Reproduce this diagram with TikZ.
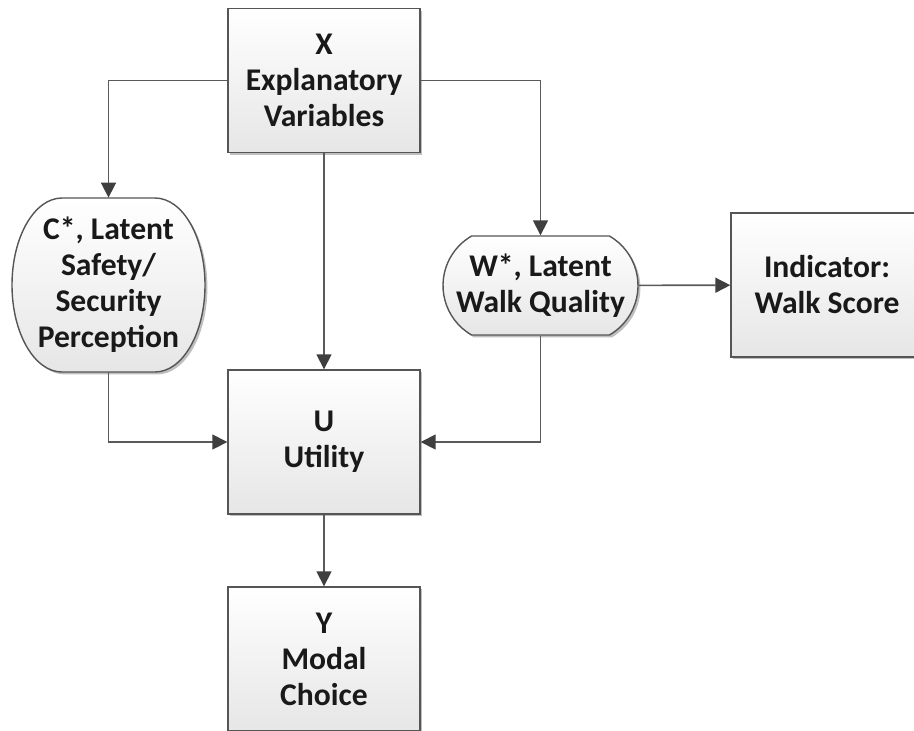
\documentclass[tikz,border=0pt]{standalone}
\usepackage{fontspec}
\setmainfont{Carlito}
\usetikzlibrary{
  arrows.meta,
  shapes.misc,
  shadows
}
\definecolor{mcLine}{HTML}{5A5A5A}
\definecolor{mcTip}{HTML}{3F3F3F}
\definecolor{mcEdge}{HTML}{555555}
\definecolor{mcFill}{HTML}{E6E6E6}
\tikzset{
  mshade/.style={
    draw=mcEdge, line width=0.7pt, top color=white, bottom color=mcFill,
    drop shadow={shadow xshift=1.2pt, shadow yshift=-1.2pt, opacity=0.25, fill=black}
  },
  mtext/.style={align=center, font=\fontsize{15.8}{18}\selectfont\bfseries, text=black!90, inner sep=2pt},
  mnode/.style={mshade, mtext},
  mbox/.style={mnode, rectangle, minimum width=96pt, minimum height=72pt},
  latent/.style={mnode, rounded rectangle, inner xsep=0pt, inner ysep=1pt},
  flow/.style={-{Triangle[length=7.5pt, width=7.5pt, color=mcTip]}, line width=0.8pt, mcLine}
}

\begin{document}
\begin{tikzpicture}[x=0.5pt, y=-0.5pt]
  \useasboundingbox (0,0) rectangle (914,730);
  \node[mbox] (expl) at (324,80.5) {X\\Explanatory\\Variables};
  % latent safety outline, elliptic sides
  \path[mshade] (62,198) -- (155,198) arc[start angle=90, end angle=-90, x radius=25pt, y radius=43.5pt]
    -- (62,372) arc[start angle=270, end angle=90, x radius=25pt, y radius=43.5pt] -- cycle;
  \node[mtext, minimum width=96.5pt, minimum height=87pt] (safety) at (108.5,285)
        {C*, Latent\\Safety/\\Security\\Perception};
  \node[latent, rounded rectangle arc length=120,
        minimum width=97.5pt, minimum height=49.5pt] (walkq) at (540.5,285.5)
        {W*, Latent\\Walk Quality};
  \node[mbox] (score) at (827,285) {Indicator:\\Walk Score};
  \node[mbox] (util) at (324,442) {U\\Utility};
  \node[mbox] (choice) at (324,659) {Y\\Modal\\Choice};
  % links
  \draw[flow] (expl.west) -| (safety.north);
  \draw[flow] (expl) -- (util);
  \draw[flow] (expl.east) -| (walkq.north);
  \draw[flow] (safety.south) |- (util.west);
  \draw[flow] (walkq.south) |- (util.east);
  \draw[flow] (walkq) -- (score);
  \draw[flow] (util) -- (choice);
\end{tikzpicture}
\end{document}
